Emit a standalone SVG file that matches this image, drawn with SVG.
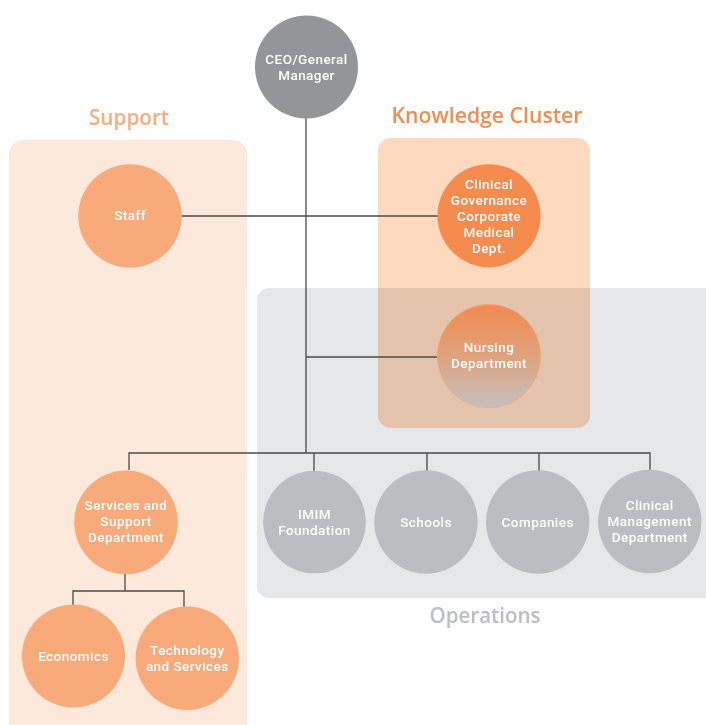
<svg xmlns="http://www.w3.org/2000/svg" width="706" height="725" viewBox="0 0 706 725">
<defs>
<linearGradient id="nurse" x1="0" y1="0" x2="0" y2="1">
<stop offset="0" stop-color="#f38b4f"/>
<stop offset="0.5" stop-color="#dfa27d"/>
<stop offset="1" stop-color="#c4c0be"/>
</linearGradient>
<style>
.lbl{font-family:Roboto,"Open Sans","DejaVu Sans",sans-serif;font-size:13.5px;fill:#ffffff;text-anchor:middle;font-weight:500;letter-spacing:0.45px}
.head{font-family:"Open Sans","Noto Sans","DejaVu Sans",sans-serif;font-size:22px;text-anchor:middle;font-weight:600}
.ln{stroke:#4a4a4a;stroke-width:1.3;fill:none}
.light{fill:#f9aa7a}
.dark{fill:#f58b4e}
.grey{fill:#bcbdc0}
</style>
</defs>
<rect x="0" y="0" width="706" height="725" fill="#ffffff"/>
<g id="support-box">
<rect x="9" y="140" width="238" height="600" rx="14" fill="#fde9db"/>
<text class="head" x="129" y="125" fill="#f9ab7c" textLength="80" lengthAdjust="spacingAndGlyphs">Support</text>
</g>
<g id="operations-box">
<rect x="257" y="288" width="470" height="310" rx="12" fill="#e6e7e8"/>
<text class="head" x="485" y="623" fill="#bcbdc0" textLength="111" lengthAdjust="spacingAndGlyphs">Operations</text>
</g>
<g id="knowledge-box">
<rect x="378" y="138" width="212" height="290" rx="13" fill="#fdd9be" style="mix-blend-mode:multiply"/>
<text class="head" x="487" y="123" fill="#f58c4f" textLength="191" lengthAdjust="spacingAndGlyphs">Knowledge Cluster</text>
</g>
<g id="connectors">
<path class="ln" d="M306 118 V453"/>
<path class="ln" d="M181 216 H438"/>
<path class="ln" d="M306 357 H438"/>
<path class="ln" d="M129 470 V453 H650 V470"/>
<path class="ln" d="M314 453 V471 M427 453 V471 M539 453 V471"/>
<path class="ln" d="M125 574 V591 M73 605 V591 H184 V607"/>
</g>
<g id="ceo">
<circle cx="306.5" cy="67" r="51.5" fill="#939598"/>
<text class="lbl" x="306.5" y="64">CEO/General</text>
<text class="lbl" x="306.5" y="80">Manager</text>
</g>
<g id="staff">
<circle class="light" cx="130" cy="216" r="51.7"/>
<text class="lbl" x="130" y="219.5">Staff</text>
</g>
<g id="clinical-governance">
<circle class="dark" cx="489" cy="215.7" r="51.5"/>
<text class="lbl" x="489" y="189">Clinical</text>
<text class="lbl" x="489" y="205">Governance</text>
<text class="lbl" x="489" y="221">Corporate</text>
<text class="lbl" x="489" y="237">Medical</text>
<text class="lbl" x="489" y="253">Dept.</text>
</g>
<g id="nursing">
<circle cx="489" cy="356" r="51.7" fill="url(#nurse)" stroke="#f2a87c" stroke-width="0.8"/>
<text class="lbl" x="489" y="352">Nursing</text>
<text class="lbl" x="489" y="368">Department</text>
</g>
<g id="imim">
<circle class="grey" cx="314.5" cy="522" r="51.3"/>
<text class="lbl" x="314.5" y="518.5">IMIM</text>
<text class="lbl" x="314.5" y="535">Foundation</text>
</g>
<g id="schools">
<circle class="grey" cx="426" cy="522" r="51.7"/>
<text class="lbl" x="426" y="526.5">Schools</text>
</g>
<g id="companies">
<circle class="grey" cx="537.7" cy="522" r="51.7"/>
<text class="lbl" x="537.7" y="526.5">Companies</text>
</g>
<g id="clinical-management">
<circle class="grey" cx="649.7" cy="521.5" r="51.7"/>
<text class="lbl" x="649.7" y="510">Clinical</text>
<text class="lbl" x="649.7" y="526">Management</text>
<text class="lbl" x="649.7" y="542">Department</text>
</g>
<g id="services">
<circle class="light" cx="126" cy="522.3" r="51.8"/>
<text class="lbl" x="126" y="510">Services and</text>
<text class="lbl" x="126" y="526">Support</text>
<text class="lbl" x="126" y="542.3">Department</text>
</g>
<g id="economics">
<circle class="light" cx="73.5" cy="656" r="51.5"/>
<text class="lbl" x="73.5" y="661">Economics</text>
</g>
<g id="technology">
<circle class="light" cx="187.3" cy="658.3" r="51.7"/>
<text class="lbl" x="187.3" y="655">Technology</text>
<text class="lbl" x="187.3" y="671">and Services</text>
</g>
</svg>
